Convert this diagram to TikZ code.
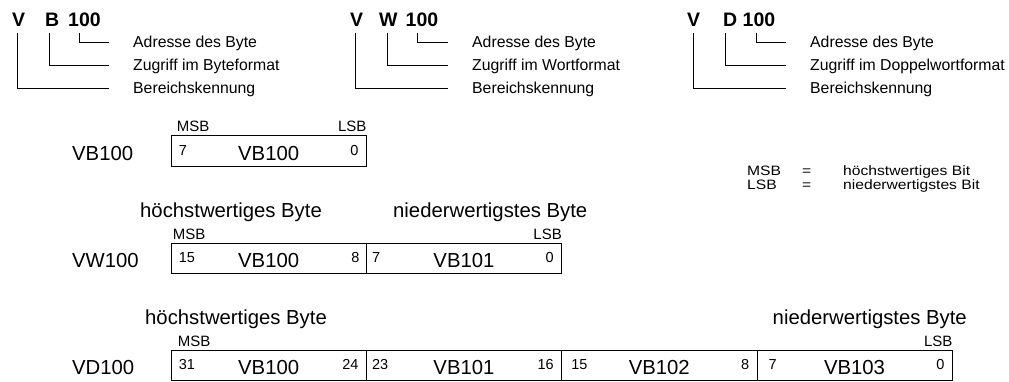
\documentclass[tikz,border=0pt]{standalone}
\usepackage{fontspec}
\setmainfont{Liberation Sans}
\newfontfamily\legfont{Liberation Sans}[FakeStretch=1.15]
\begin{document}
\begin{tikzpicture}[x=1pt,y=-1pt,
  ttl/.style={inner sep=0pt,anchor=base west,font=\fontsize{19.5}{22}\selectfont\bfseries},
  desc/.style={inner sep=0pt,anchor=base west,font=\fontsize{15.8}{18}\selectfont},
  big/.style={inner sep=0pt,font=\fontsize{20.3}{24}\selectfont},
  sml/.style={inner sep=0pt,font=\fontsize{15}{17}\selectfont},
  num/.style={inner sep=0pt,font=\fontsize{14.5}{16}\selectfont},
  leg/.style={inner sep=0pt,anchor=base west,font=\legfont\fontsize{13.6}{15}\selectfont},
  brk/.style={line width=0.8pt},
  cell/.style={draw,line width=0.8pt,inner sep=0pt,minimum width=195.3pt}
]
\useasboundingbox (0,0) rectangle (1009,381);

% ---------- title groups ----------
% group 1
\node[ttl] (gV1) at (12,26) {V};
\node[ttl] (gB1) at (45,26) {B};
\node[ttl] (gN1) at (68,26) {100};
\node[desc] (tA1) at (133,47) {Adresse des Byte};
\node[desc] (tZ1) at (133,70) {Zugriff im Byteformat};
\node[desc] (tR1) at (133,93) {Bereichskennung};
\draw[brk] ([xshift=11pt,yshift=-7pt]gN1.south west) |- ([xshift=-24pt,yshift=5pt]tA1.base west);
\draw[brk] ([xshift=-3pt,yshift=-7pt]gB1.south) |- ([xshift=-24pt,yshift=5pt]tZ1.base west);
\draw[brk] ([xshift=-1.5pt,yshift=-7pt]gV1.south) |- ([xshift=-24pt,yshift=5pt]tR1.base west);
% group 2
\node[ttl] (gV2) at (350,26) {V};
\node[ttl] (gW2) at (379,26) {W};
\node[ttl] (gN2) at (405.5,26) {100};
\node[desc] (tA2) at (472,47) {Adresse des Byte};
\node[desc] (tZ2) at (472,70) {Zugriff im Wortformat};
\node[desc] (tR2) at (472,93) {Bereichskennung};
\draw[brk] ([xshift=11.5pt,yshift=-7pt]gN2.south west) |- ([xshift=-24pt,yshift=5pt]tA2.base west);
\draw[brk] ([xshift=-1pt,yshift=-7pt]gW2.south) |- ([xshift=-24pt,yshift=5pt]tZ2.base west);
\draw[brk] ([xshift=-1.5pt,yshift=-7pt]gV2.south) |- ([xshift=-24pt,yshift=5pt]tR2.base west);
% group 3
\node[ttl] (gV3) at (687,26) {V};
\node[ttl] (gD3) at (723,26) {D};
\node[ttl] (gN3) at (742.5,26) {100};
\node[desc] (tA3) at (810,47) {Adresse des Byte};
\node[desc] (tZ3) at (810,70) {Zugriff im Doppelwortformat};
\node[desc] (tR3) at (810,93) {Bereichskennung};
\draw[brk] ([xshift=13.5pt,yshift=-7pt]gN3.south west) |- ([xshift=-24pt,yshift=5pt]tA3.base west);
\draw[brk] ([xshift=-5pt,yshift=-7pt]gD3.south) |- ([xshift=-24pt,yshift=5pt]tZ3.base west);
\draw[brk] ([xshift=-0.5pt,yshift=-7pt]gV3.south) |- ([xshift=-24pt,yshift=5pt]tR3.base west);

% ---------- legend ----------
\node[leg] (lM) at (747,175) {MSB};
\node[leg] (lMe) at (802,175) {=};
\node[leg] (lMt) at (843,175) {höchstwertiges Bit};
\node[leg] (lL) at (747,189) {LSB};
\node[leg] (lLe) at (802,189) {=};
\node[leg] (lLt) at (843,189) {niederwertigstes Bit};

% ---------- row 1: VB100 ----------
\node[big,anchor=base west] (r1) at (72,160) {VB100};
\node[cell,minimum height=31pt] (a1) at (268.65,150.5) {};
\node[big,anchor=base] at ([yshift=6pt]a1.south) {VB100};
\node[num,anchor=base west] at ([xshift=8pt,yshift=11pt]a1.south west) {7};
\node[num,anchor=base east] at ([xshift=-8pt,yshift=11pt]a1.south east) {0};
\node[sml,anchor=base west] at ([xshift=6pt,yshift=3pt]a1.north west) {MSB};
\node[sml,anchor=base east] at ([yshift=3pt]a1.north east) {LSB};

% ---------- row 2: VW100 ----------
\node[big,anchor=base west] at (140,217) {höchstwertiges Byte};
\node[big,anchor=base west] at (393,217) {niederwertigstes Byte};
\node[big,anchor=base west] (r2) at (72,267) {VW100};
\node[cell,minimum height=30pt] (b1) at (268.65,258) {};
\node[cell,minimum height=30pt] (b2) at (463.95,258) {};
\node[big,anchor=base] at ([yshift=6pt]b1.south) {VB100};
\node[big,anchor=base] at ([yshift=6pt]b2.south) {VB101};
\node[num,anchor=base west] at ([xshift=8pt,yshift=10.5pt]b1.south west) {15};
\node[num,anchor=base east] at ([xshift=-7pt,yshift=10.5pt]b1.south east) {8};
\node[num,anchor=base west] at ([xshift=6pt,yshift=10.5pt]b2.south west) {7};
\node[num,anchor=base east] at ([xshift=-8pt,yshift=10.5pt]b2.south east) {0};
\node[sml,anchor=base west] at ([xshift=2pt,yshift=3pt]b1.north west) {MSB};
\node[sml,anchor=base east] at ([yshift=3pt]b2.north east) {LSB};

% ---------- row 3: VD100 ----------
\node[big,anchor=base west] at (145,324) {höchstwertiges Byte};
\node[big,anchor=base east] at (967,324) {niederwertigstes Byte};
\node[big,anchor=base west] (r3) at (72,374) {VD100};
\node[cell,minimum height=30pt] (d1) at (268.65,365) {};
\node[cell,minimum height=30pt] (d2) at (463.95,365) {};
\node[cell,minimum height=30pt] (d3) at (659.25,365) {};
\node[cell,minimum height=30pt] (d4) at (854.55,365) {};
\node[big,anchor=base] at ([yshift=6pt]d1.south) {VB100};
\node[big,anchor=base] at ([yshift=6pt]d2.south) {VB101};
\node[big,anchor=base] at ([yshift=6pt]d3.south) {VB102};
\node[big,anchor=base] at ([yshift=6pt]d4.south) {VB103};
\node[num,anchor=base west] at ([xshift=8pt,yshift=10.5pt]d1.south west) {31};
\node[num,anchor=base east] at ([xshift=-8pt,yshift=10.5pt]d1.south east) {24};
\node[num,anchor=base west] at ([xshift=6pt,yshift=10.5pt]d2.south west) {23};
\node[num,anchor=base east] at ([xshift=-8pt,yshift=10.5pt]d2.south east) {16};
\node[num,anchor=base west] at ([xshift=10pt,yshift=10.5pt]d3.south west) {15};
\node[num,anchor=base east] at ([xshift=-8pt,yshift=10.5pt]d3.south east) {8};
\node[num,anchor=base west] at ([xshift=12pt,yshift=10.5pt]d4.south west) {7};
\node[num,anchor=base east] at ([xshift=-8pt,yshift=10.5pt]d4.south east) {0};
\node[sml,anchor=base west] at ([xshift=7pt,yshift=3pt]d1.north west) {MSB};
\node[sml,anchor=base east] at ([yshift=3pt]d4.north east) {LSB};
\end{tikzpicture}
\end{document}
